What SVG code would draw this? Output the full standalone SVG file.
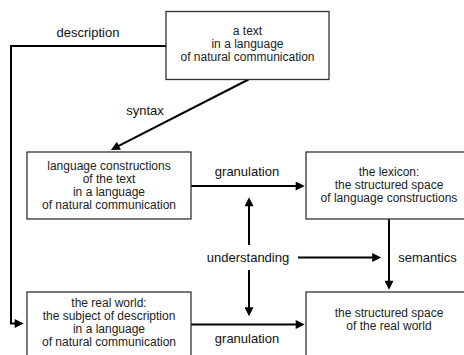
<svg xmlns="http://www.w3.org/2000/svg" width="464" height="355" viewBox="0 0 464 355">
  <defs>
    <marker id="arrow" viewBox="0 0 10 10" markerWidth="10" markerHeight="9" markerUnits="userSpaceOnUse" refX="7" refY="5" orient="auto">
      <path d="M0,0 L10,5 L0,10 z" fill="#000"/>
    </marker>
  </defs>
  <style>
    .box { fill: #fff; stroke: #333; stroke-width: 1.3; }
    .txt { font-family: "Liberation Sans", Arial, sans-serif; font-size: 12px; fill: #222; text-anchor: middle; }
    .lbl { font-family: "Liberation Sans", Arial, sans-serif; font-size: 13px; fill: #111; text-anchor: middle; }
    .link { fill: none; stroke: #000; stroke-width: 2; }
    .arr { marker-end: url(#arrow); }
  </style>
  <rect width="464" height="355" fill="#fff"/>

  <g id="connectors">
    <!-- description: text to real world -->
    <polyline class="link arr" points="166,46 11,46 11,323.5 21,323.5"/>
    <!-- syntax -->
    <line class="link arr" x1="248.5" y1="79.5" x2="113.3" y2="148.7"/>
    <!-- granulation (language) -->
    <line class="link arr" x1="191" y1="186" x2="302" y2="186"/>
    <!-- understanding up -->
    <line class="link arr" x1="249" y1="245" x2="249" y2="200"/>
    <!-- understanding down -->
    <line class="link arr" x1="249" y1="270" x2="249" y2="313.5"/>
    <!-- understanding right -->
    <line class="link arr" x1="298" y1="257.5" x2="378.5" y2="257.5"/>
    <!-- semantics -->
    <line class="link arr" x1="389" y1="219" x2="389" y2="287"/>
    <!-- granulation (real world) -->
    <line class="link arr" x1="191" y1="324.5" x2="302" y2="324.5"/>
  </g>

  <g id="labels">
    <text class="lbl" x="88" y="37">description</text>
    <text class="lbl" x="145" y="115">syntax</text>
    <text class="lbl" x="247" y="176">granulation</text>
    <text class="lbl" x="248" y="262">understanding</text>
    <text class="lbl" x="427.5" y="262">semantics</text>
    <text class="lbl" x="247" y="343">granulation</text>
  </g>

  <g id="text-node">
    <rect class="box" x="166" y="11.5" width="163" height="68"/>
    <text class="txt" x="247.5" y="35">a text</text>
    <text class="txt" x="247.5" y="48">in a language</text>
    <text class="txt" x="247.5" y="61">of natural communication</text>
  </g>

  <g id="constructions-node">
    <rect class="box" x="27" y="152" width="164" height="67"/>
    <text class="txt" x="109" y="170">language constructions</text>
    <text class="txt" x="109" y="183">of the text</text>
    <text class="txt" x="109" y="196">in a language</text>
    <text class="txt" x="109" y="209">of natural communication</text>
  </g>

  <g id="lexicon-node">
    <rect class="box" x="306" y="152" width="166" height="67"/>
    <text class="txt" x="389" y="176">the lexicon:</text>
    <text class="txt" x="389" y="189">the structured space</text>
    <text class="txt" x="389" y="202">of language constructions</text>
  </g>

  <g id="real-world-node">
    <rect class="box" x="27" y="292" width="164" height="70"/>
    <text class="txt" x="109" y="307">the real world:</text>
    <text class="txt" x="109" y="320">the subject of description</text>
    <text class="txt" x="109" y="333">in a language</text>
    <text class="txt" x="109" y="346">of natural communication</text>
  </g>

  <g id="structured-space-node">
    <rect class="box" x="306" y="292" width="166" height="70"/>
    <text class="txt" x="389" y="317">the structured space</text>
    <text class="txt" x="389" y="330">of the real world</text>
  </g>
</svg>
